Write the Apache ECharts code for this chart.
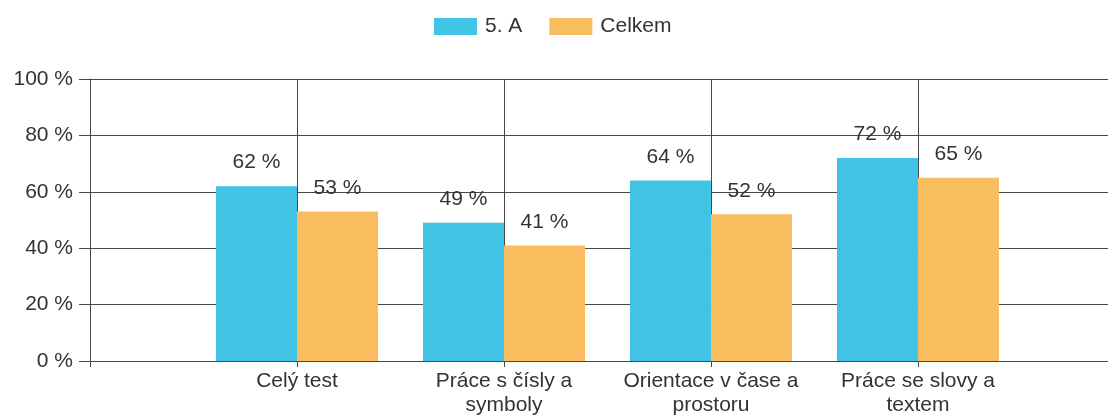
<!DOCTYPE html>
<html>
<head>
<meta charset="utf-8">
<script src="https://cdn.jsdelivr.net/npm/echarts@6/dist/echarts.min.js"></script>
<style>
    html, body { margin: 0; padding: 0; background: #fff; }
    #chart { width: 1108px; height: 417px; }
</style>
</head>
<body>
<div id="chart"></div>
<script>
    var categories = ['Celý test', 'Práce s čísly a\nsymboly', 'Orientace v čase a\nprostoru', 'Práce se slovy a\ntextem'];
    var classValues = [62, 49, 64, 72];
    var totalValues = [53, 41, 52, 65];
    var yTicks = [0, 20, 40, 60, 80, 100];

    // x is a position axis: category i sits at i + 1, the axis runs a bit past the last one
    function toPoints(values) {
        return values.map(function (v, i) { return [i + 1, v]; });
    }

    var textColor = '#333';
    var lineColor = '#474747';

    var myChart = echarts.init(document.getElementById('chart'));
    var option = {
        backgroundColor: '#fff',
        animation: false,
        textStyle: { fontFamily: 'Liberation Sans, Arial, sans-serif' },
        legend: {
            top: 11,
            left: 429,
            itemWidth: 43,
            itemHeight: 17,
            itemGap: 27,
            icon: 'rect',
            textStyle: { fontSize: 21, color: textColor, padding: [0, 0, 0, 3] },
            data: ['5. A', 'Celkem']
        },
        grid: {
            left: 90,
            top: 79,
            right: 0,
            height: 283
        },
        xAxis: {
            type: 'value',
            min: 0,
            max: 4.918,
            interval: 1,
            axisLine: { lineStyle: { color: lineColor, width: 1 } },
            axisTick: { show: true, length: 6, lineStyle: { color: lineColor } },
            axisLabel: {
                margin: 8,
                fontSize: 21,
                lineHeight: 24,
                color: textColor,
                showMaxLabel: false,
                formatter: function (v) {
                    return categories[v - 1] || '';
                }
            },
            splitLine: { show: true, lineStyle: { color: lineColor, width: 1 } }
        },
        yAxis: {
            type: 'value',
            min: yTicks[0],
            max: yTicks[yTicks.length - 1],
            interval: 20,
            axisLine: { show: true, lineStyle: { color: lineColor, width: 1 } },
            axisTick: { show: true, length: 11, lineStyle: { color: lineColor } },
            axisLabel: {
                margin: 17,
                fontSize: 21,
                color: textColor,
                formatter: '{value} %'
            },
            splitLine: { show: true, lineStyle: { color: lineColor, width: 1 } }
        },
        series: [
            {
                name: '5. A',
                type: 'bar',
                barWidth: 81,
                barGap: '0%',
                itemStyle: { color: '#41C3E6' },
                label: {
                    show: true,
                    position: 'top',
                    distance: 13,
                    fontSize: 21,
                    color: textColor,
                    formatter: function (p) { return p.value[1] + ' %'; }
                },
                data: toPoints(classValues)
            },
            {
                name: 'Celkem',
                type: 'bar',
                barWidth: 81,
                barGap: '0%',
                itemStyle: { color: '#F8BD5E' },
                label: {
                    show: true,
                    position: 'top',
                    distance: 13,
                    fontSize: 21,
                    color: textColor,
                    formatter: function (p) { return p.value[1] + ' %'; }
                },
                data: toPoints(totalValues)
            }
        ]
    };
    myChart.setOption(option);
</script>
</body>
</html>
